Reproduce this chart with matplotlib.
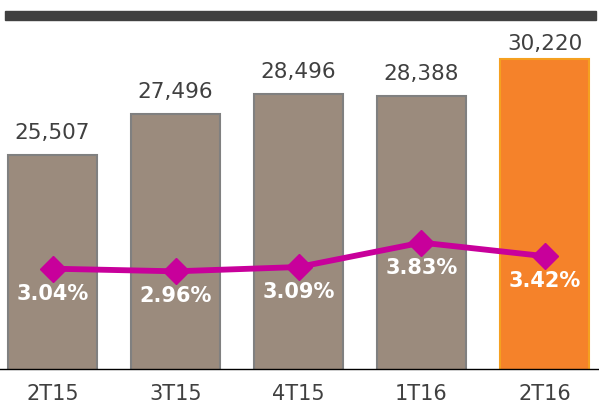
import numpy as np
import matplotlib.pyplot as plt
from matplotlib.patches import Rectangle

quarters = ['2T15', '3T15', '4T15', '1T16', '2T16']
volume = [25507, 27496, 28496, 28388, 30220]
ratio = [3.04, 2.96, 3.09, 3.83, 3.42]

grey = '#9B8B7D'
orange = '#F5822A'
magenta = '#C8009B'
text_col = '#404040'

W, H = 599, 408
fig = plt.figure(figsize=(W / 100, H / 100), dpi=100)

# dark strip at the top
fig.patches.append(Rectangle((5 / W, 1 - 20 / H), 591 / W, 9 / H,
                             transform=fig.transFigure, color='#404040'))

ax = fig.add_axes([0, 1 - 369 / H, 1, 329 / H])
x = np.arange(len(quarters))
colors = [grey] * 4 + [orange]
edges = ['#808080'] * 4 + ['#F5A020']
ax.bar(x, volume, width=0.724, color=colors, edgecolor=edges, linewidth=1.5, zorder=2)
ax.set_xlim(-52.5 / 123, (W - 52.5) / 123)
ax.set_ylim(15000, 15000 + 329 / 0.02037)

for i, v in enumerate(volume):
    off = 15 if i == len(volume) - 1 else 22
    ax.annotate(f'{v:,}', (x[i], v), xytext=(0, off * 0.72), textcoords='offset points',
                ha='center', va='center', fontsize=15.5, color=text_col)

for s in ['top', 'left', 'right']:
    ax.spines[s].set_visible(False)
ax.spines['bottom'].set_color('black')
ax.spines['bottom'].set_linewidth(1)
ax.set_yticks([])
ax.set_xticks(x)
ax.set_xticklabels(quarters, fontsize=15, color=text_col)
ax.tick_params(axis='x', length=0, pad=11)

ax2 = ax.twinx()
ax2.set_ylim(0, 329 / 33)
ax2.plot(x, ratio, color=magenta, lw=4.2, marker='D', markersize=13, zorder=3)
for i, r in enumerate(ratio):
    ax2.annotate(f'{r:.2f}%', (x[i], r), xytext=(0, -25 * 0.72), textcoords='offset points',
                 ha='center', va='center', fontsize=15, fontweight='bold', color='white')
ax2.set_yticks([])
for s in ['top', 'left', 'right', 'bottom']:
    ax2.spines[s].set_visible(False)

fig.savefig('out.png', dpi=100)
